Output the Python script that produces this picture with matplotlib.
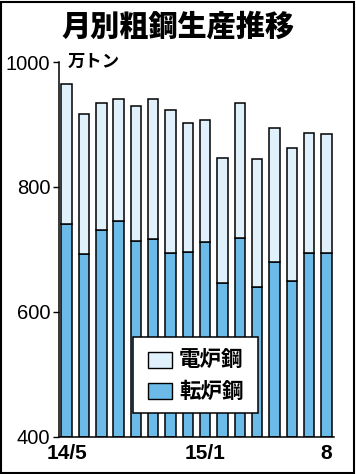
import matplotlib
matplotlib.use('Agg')
import matplotlib.pyplot as plt
import matplotlib.patches as patches
import numpy as np

# data (万トン)
months = ['14/5', '', '', '', '', '', '', '', '15/1', '', '', '', '', '', '', '8']
tenro = [740, 693, 731, 745, 713, 716, 694, 696, 712, 646, 718, 639, 680, 649, 694, 694]
total = [964, 917, 934, 940, 930, 940, 923, 903, 907, 847, 934, 844, 895, 862, 887, 884]
denro = [t - b for t, b in zip(total, tenro)]

light = '#e0f1fc'
blue = '#6cbae8'
jp = ['Noto Sans CJK JP', 'DejaVu Sans']
num = ['Liberation Sans', 'DejaVu Sans']

W, H = 356, 474
fig = plt.figure(figsize=(W / 100, H / 100), dpi=100)
ax = fig.add_axes([58.7 / W, 1 - 436.7 / H, (334 - 58.7) / W, (436.7 - 62) / H])

x = np.arange(len(months))
ax.bar(x, [t - 400 for t in tenro], bottom=400, width=0.6, color=blue,
       edgecolor='black', linewidth=1.1, zorder=2)
ax.bar(x, denro, bottom=tenro, width=0.6, color=light,
       edgecolor='black', linewidth=1.1, zorder=2)

ax.set_xlim(-0.46, 15.43)
ax.set_ylim(400, 1000)
ax.set_yticks([400, 600, 800, 1000])
ax.set_yticklabels(['400', '600', '800', '1000'], family=num, fontsize=14.5)
ax.set_xticks(x)
ax.set_xticklabels(months, family=num, fontsize=15, fontweight='bold')
ax.tick_params(axis='x', length=0, pad=5)
ax.tick_params(axis='y', length=4, width=1, pad=2)
for s in ['top', 'right']:
    ax.spines[s].set_visible(False)
for s in ['left', 'bottom']:
    ax.spines[s].set_linewidth(1.1)

# unit label
fig.text(68 / W, 1 - 62 / H, '万トン', family=jp, fontsize=12.5, fontweight='bold',
         ha='left', va='center')

# title
fig.text(178 / W, 1 - 27 / H, '月別粗鋼生産推移', family=jp, fontsize=21, fontweight='heavy',
         ha='center', va='center')

# legend box
def px(xp, yp):
    return (xp / W, 1 - yp / H)

fig.patches.append(patches.Rectangle(px(133, 413), 125 / W, 76 / H, transform=fig.transFigure,
                                     facecolor='white', edgecolor='black', linewidth=1.1, zorder=5))
for yc, col, lab in [(360, light, '電炉鋼'), (391, blue, '転炉鋼')]:
    fig.patches.append(patches.Rectangle(px(148, yc + 8), 24 / W, 16 / H, transform=fig.transFigure,
                                         facecolor=col, edgecolor='black', linewidth=1.0, zorder=6))
    fig.text(179 / W, 1 - yc / H, lab, family=jp, fontsize=15.5, fontweight='bold',
             ha='left', va='center', zorder=7)

# outer frame
fig.patches.append(patches.Rectangle((1 / W, 1.5 / H), 353 / W, 471 / H, transform=fig.transFigure,
                                     fill=False, edgecolor='black', linewidth=1.5))

fig.savefig('out.png', dpi=100)
